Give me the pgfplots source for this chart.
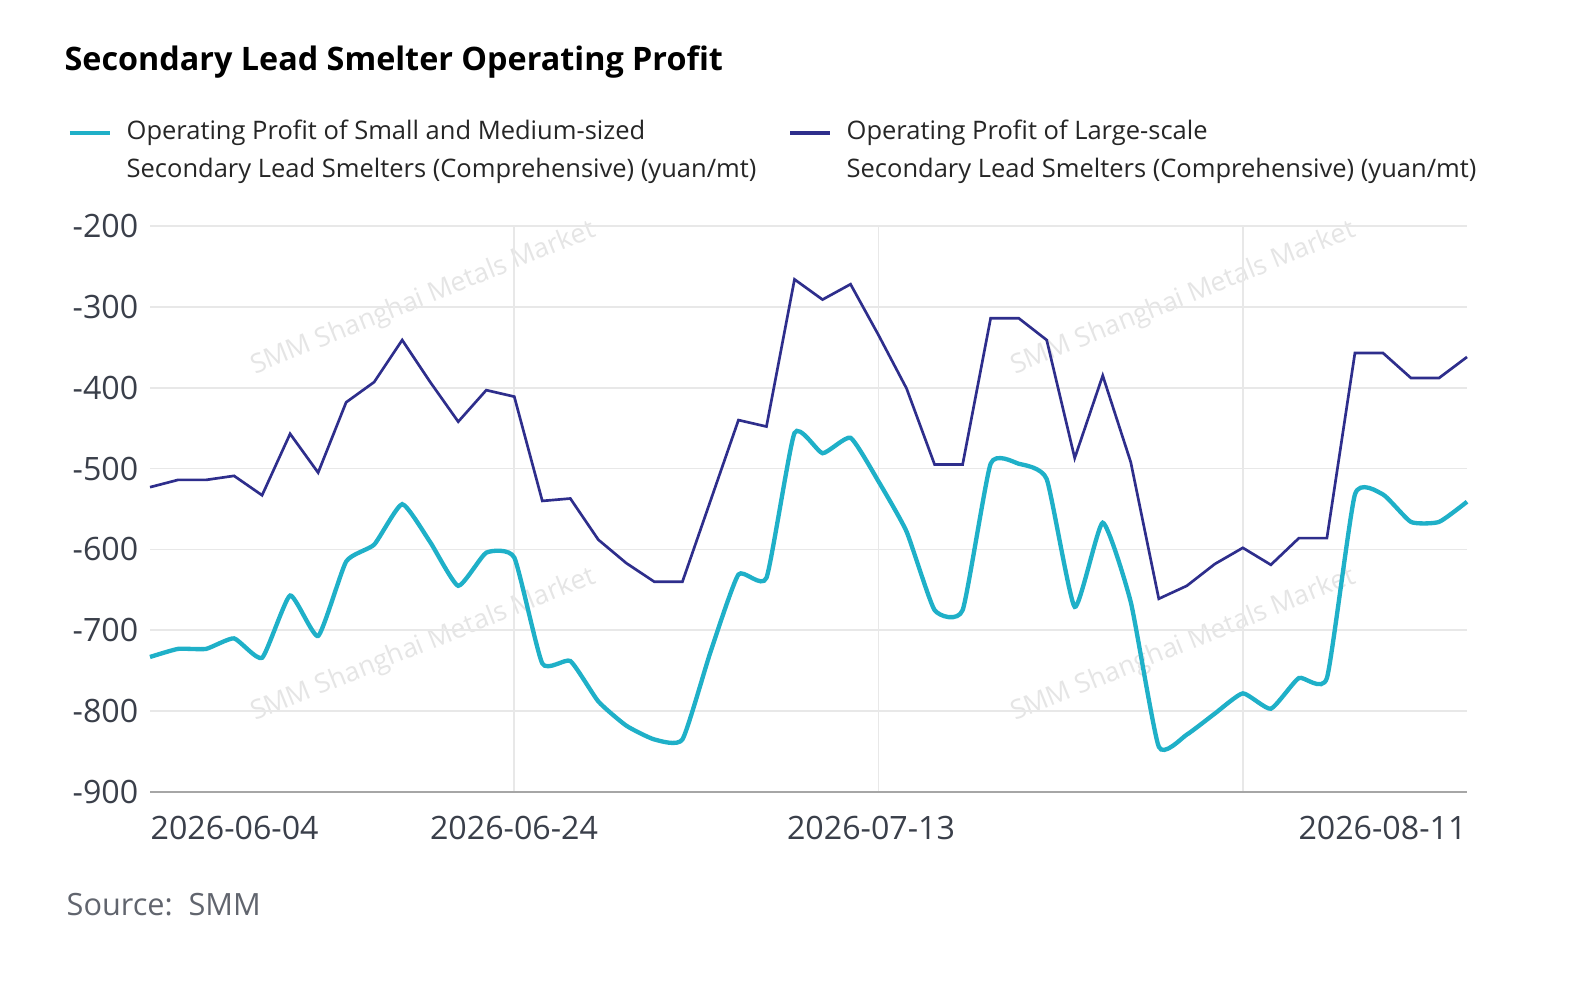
\documentclass[border=0pt]{standalone}
\usepackage{pgfplots}
\pgfplotsset{compat=1.18}
\usepackage{fontspec}
\setmainfont{Open Sans}
\definecolor{cy}{HTML}{1FB0C8}
\definecolor{nv}{HTML}{2E2E8C}
\definecolor{tx}{HTML}{3A3F4A}
\begin{document}
\begin{tikzpicture}
\fill[white] (-45pt,-60.6pt) rectangle (430.8pt,237.6pt);
\begin{scope}[text=gray!20,font=\fontsize{8}{10}\selectfont]
\node[rotate=22] at (82pt,148pt) {SMM Shanghai Metals Market};
\node[rotate=22] at (310pt,148pt) {SMM Shanghai Metals Market};
\node[rotate=22] at (82pt,44pt) {SMM Shanghai Metals Market};
\node[rotate=22] at (310pt,44pt) {SMM Shanghai Metals Market};
\end{scope}
\begin{axis}[at={(0,0)},anchor=south west,scale only axis,width=395.1pt,height=169.8pt,
 xmin=0,xmax=47,ymin=-900,ymax=-200,ytick={-900,-800,...,-200},
 xtick={13,26,39},xticklabels={},major tick length=0pt,
 grid=major,grid style={draw=gray!18,line width=0.5pt},
 axis x line*=bottom,axis y line*=left,
 y axis line style={draw=none},
 x axis line style={draw=gray!70,line width=0.6pt,-},
 /pgf/number format/assume math mode=true,
 yticklabel style={font=\fontsize{9.65}{12}\selectfont,text=tx},
 clip=false]
\addplot[nv,line width=0.8pt] coordinates {(0,-523)(1,-514)(2,-514)(3,-509)(4,-533)(5,-457)(6,-505)(7,-418)(8,-393)(9,-341)(10,-393)(11,-442)(12,-403)(13,-411)(14,-540)(15,-537)(16,-588)(17,-617)(18,-640)(19,-640)(20,-540)(21,-440)(22,-448)(23,-266)(24,-291)(25,-272)(26,-335)(27,-401)(28,-495)(29,-495)(30,-314)(31,-314)(32,-341)(33,-487)(34,-385)(35,-492)(36,-661)(37,-645)(38,-618)(39,-598)(40,-619)(41,-586)(42,-586)(43,-357)(44,-357)(45,-388)(46,-388)(47,-362)};
\addplot[cy,line width=1.3pt,smooth,tension=0.3] coordinates {(0,-733)(1,-723)(2,-723)(3,-710)(4,-734)(5,-657)(6,-707)(7,-615)(8,-594)(9,-544)(10,-591)(11,-645)(12,-604)(13,-610)(14,-741)(15,-738)(16,-788)(17,-818)(18,-835)(19,-835)(20,-727)(21,-631)(22,-635)(23,-456)(24,-481)(25,-462)(26,-516)(27,-578)(28,-675)(29,-675)(30,-494)(31,-494)(32,-513)(33,-671)(34,-567)(35,-665)(36,-844)(37,-829)(38,-803)(39,-778)(40,-797)(41,-759)(42,-759)(43,-532)(44,-532)(45,-566)(46,-566)(47,-541)};
\end{axis}
\begin{scope}[font=\fontsize{9.65}{12}\selectfont,text=tx]
\node[anchor=north west,inner sep=0pt] at (0,-7pt) {2026-06-04};
\node[anchor=north,inner sep=0pt] at (109.2pt,-7pt) {2026-06-24};
\node[anchor=north,inner sep=0pt] at (216.3pt,-7pt) {2026-07-13};
\node[anchor=north east,inner sep=0pt] at (395.1pt,-7pt) {2026-08-11};
\end{scope}
\node[anchor=west,inner sep=0pt,font=\bfseries\fontsize{9.7}{12}\selectfont] at (-25.8pt,219pt) {Secondary Lead Smelter Operating Profit};
\draw[cy,line width=1.3pt] (-24pt,197.7pt) -- (-12pt,197.7pt);
\draw[nv,line width=1.3pt] (192pt,197.7pt) -- (204pt,197.7pt);
\begin{scope}[font=\fontsize{7.65}{10}\selectfont,text=black!85]
\node[anchor=west,inner sep=0pt] at (-7.2pt,197.7pt) {Operating Profit of Small and Medium-sized};
\node[anchor=west,inner sep=0pt] at (-7.2pt,186.3pt) {Secondary Lead Smelters (Comprehensive) (yuan/mt)};
\node[anchor=west,inner sep=0pt] at (208.8pt,197.7pt) {Operating Profit of Large-scale};
\node[anchor=west,inner sep=0pt] at (208.8pt,186.3pt) {Secondary Lead Smelters (Comprehensive) (yuan/mt)};
\end{scope}
\node[anchor=west,inner sep=0pt,font=\fontsize{9.2}{11}\selectfont,text=tx!80] at (-25.2pt,-33.9pt) {Source:\ \ SMM};
\end{tikzpicture}
\end{document}
